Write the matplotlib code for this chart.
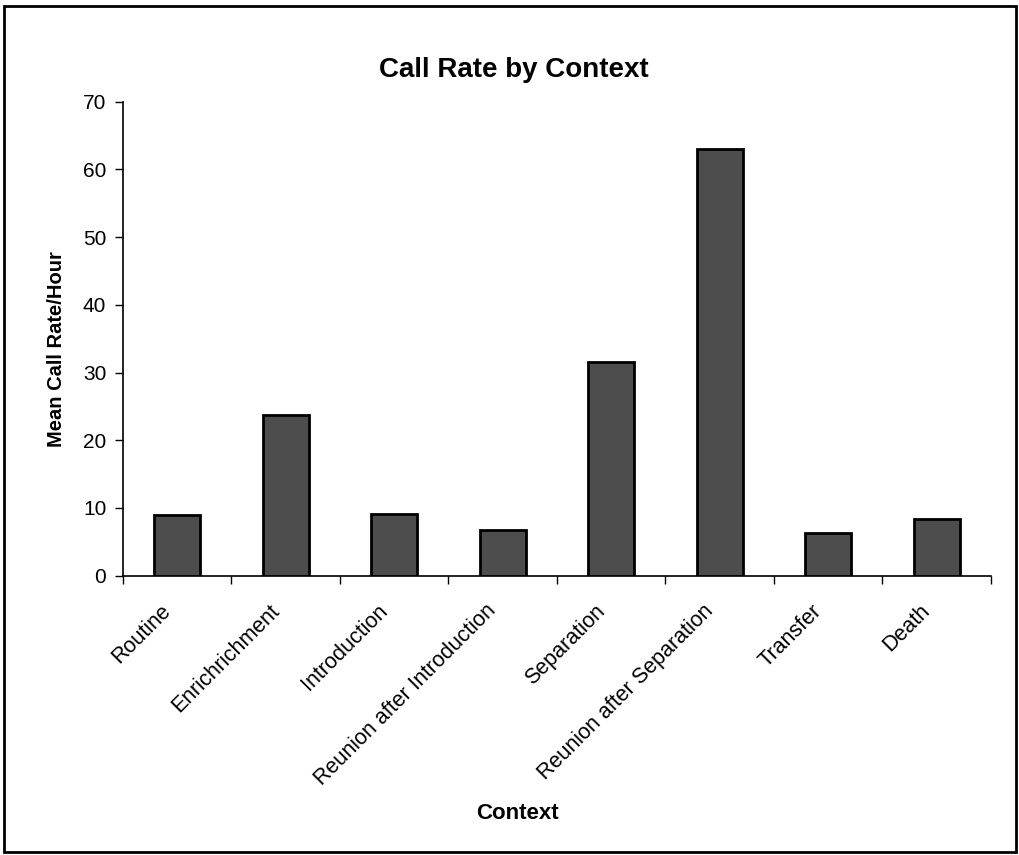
import numpy as np
import matplotlib
matplotlib.use("Agg")
import matplotlib.pyplot as plt
import matplotlib.transforms as mtransforms
from matplotlib.patches import Rectangle

plt.rcParams['font.family'] = ['Liberation Sans', 'DejaVu Sans']

contexts = ['Routine', 'Enrichrichment', 'Introduction', 'Reunion after Introduction',
            'Separation', 'Reunion after Separation', 'Transfer', 'Death']
call_rates = [8.9, 23.7, 9.1, 6.8, 31.6, 63.0, 6.3, 8.3]
y_ticks = [0, 10, 20, 30, 40, 50, 60, 70]

fig = plt.figure(figsize=(10.19, 8.55), dpi=100)
ax = fig.add_axes([0.1207, 0.3267, 0.8518, 0.5543])

x = np.arange(len(contexts))
ax.bar(x, call_rates, width=0.42, color='#4d4d4d', edgecolor='black', linewidth=2, zorder=3)

ax.set_xlim(-0.5, len(contexts) - 0.5)
ax.set_ylim(0, 70)
ax.set_yticks(y_ticks)
ax.tick_params(axis='y', labelsize=15, direction='out', length=6, width=1, pad=6)

ax.set_xticks(x)
ax.set_xticklabels(contexts, rotation=45, ha='right', rotation_mode='anchor', fontsize=15.5)
ax.tick_params(axis='x', which='major', length=0, pad=12)
ax.set_xticks(np.arange(-0.5, len(contexts), 1.0), minor=True)
ax.tick_params(axis='x', which='minor', direction='out', length=6, width=1)

# nudge rotated labels to sit like the original
shift = mtransforms.ScaledTranslation(-0.17, -0.08, fig.dpi_scale_trans)
for lbl in ax.get_xticklabels():
    lbl.set_transform(lbl.get_transform() + shift)

for side in ['top', 'right']:
    ax.spines[side].set_visible(False)
for side in ['left', 'bottom']:
    ax.spines[side].set_linewidth(1.2)

fig.text(0.055, 1 - 349.5 / 855, 'Mean Call Rate/Hour', rotation=90, ha='center', va='center',
         fontsize=14.5, fontweight='bold')
fig.text(0.508, 1 - 819.3 / 855, 'Context', ha='center', va='baseline', fontsize=16, fontweight='bold')
fig.text(0.504, 1 - 76.7 / 855, 'Call Rate by Context', ha='center', va='baseline',
         fontsize=20, fontweight='bold')

fig.patches.append(Rectangle((0.004, 0.003), 0.993, 0.99, transform=fig.transFigure,
                             fill=False, edgecolor='black', linewidth=2))

fig.savefig('out.png', dpi=100, facecolor='white')
